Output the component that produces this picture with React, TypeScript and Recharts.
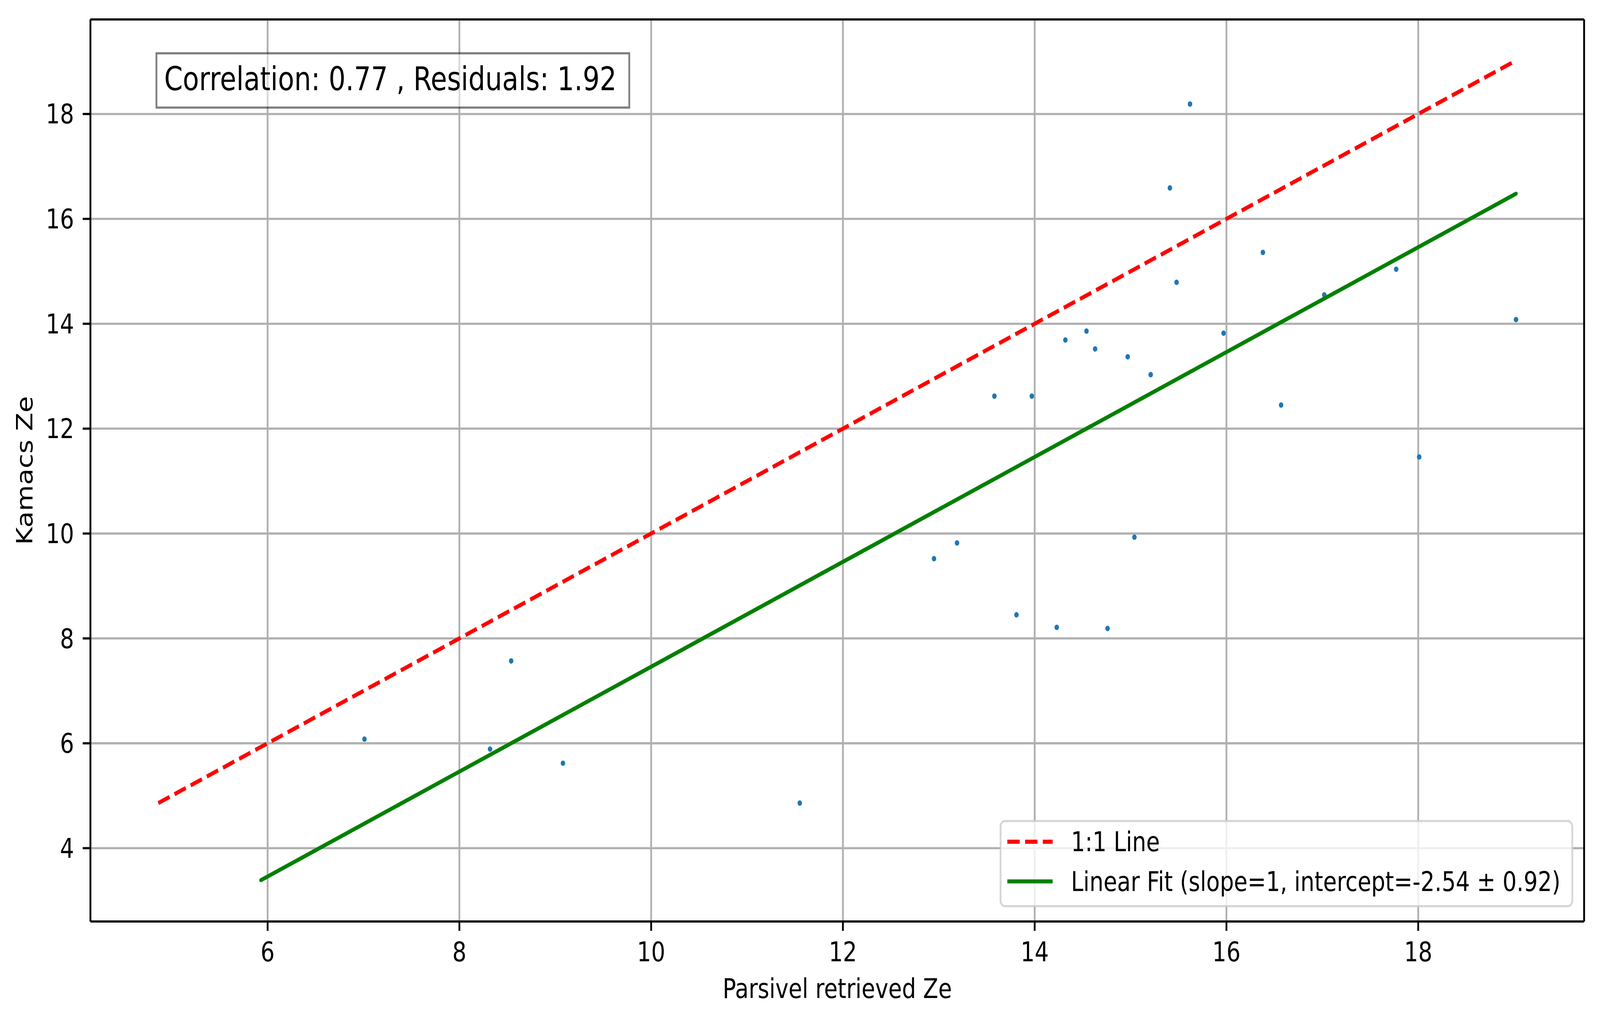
import React from "react";
import { ScatterChart, Scatter, XAxis, YAxis, CartesianGrid, Legend, Label, ReferenceLine } from "recharts";

// values
const parsivelZe = [7.01, 8.32, 8.54, 9.08, 11.55, 12.95, 13.19, 13.58, 13.97, 13.81, 14.23, 14.32, 14.54, 14.63, 14.76, 14.97, 15.04, 15.21, 15.41, 15.48, 15.62, 15.97, 16.38, 16.57, 17.02, 17.77, 18.01, 19.02];
const kamacsZe = [6.08, 5.89, 7.57, 5.62, 4.86, 9.52, 9.82, 12.62, 12.62, 8.45, 8.21, 13.69, 13.86, 13.52, 8.19, 13.37, 9.93, 13.03, 16.59, 14.79, 18.19, 13.82, 15.36, 12.45, 14.55, 15.04, 11.46, 14.08];

const oneToOneX = [4.86, 19.02];
const oneToOneY = [4.86, 19.02];
const fitX = [5.93, 19.02];
const fitY = [3.39, 16.48];

const xTicks = [6, 8, 10, 12, 14, 16, 18];
const yTicks = [4, 6, 8, 10, 12, 14, 16, 18];
const xDomain = [4.152, 19.73];
const yDomain = [2.602, 19.803];

const statsText = "Correlation: 0.77 , Residuals: 1.92";
const oneToOneName = "1:1 Line";
const fitName = "Linear Fit (slope=1, intercept=-2.54 \u00b1 0.92)";

const points = parsivelZe.map((x, i) => ({ x, y: kamacsZe[i] }));
const oneToOne = oneToOneX.map((x, i) => ({ x, y: oneToOneY[i] }));
const fit = fitX.map((x, i) => ({ x, y: fitY[i] }));

const W = 4981;
const H = 2620;
const FONT = "DejaVu Sans";
const LW = 10.4;
const THIN = 5.6;

const lineStyles: Record<string, { stroke: string; dash?: string }> = {
  [oneToOneName]: { stroke: "#ff0000", dash: "38.5 16.7" },
  [fitName]: { stroke: "#008000" },
};

function LegendBox({ payload }: any) {
  const items = (payload || []).filter((p: any) => lineStyles[p.value]);
  return (
    <svg width={1786} height={224} style={{ display: "block", overflow: "visible" }}>
      <rect x={2.8} y={2.8} width={1780} height={218} rx={14} ry={14}
        fill="rgba(255,255,255,0.8)" stroke="rgba(204,204,204,0.8)" strokeWidth={THIN} />
      {items.map((p: any, i: number) => {
        const st = lineStyles[p.value];
        const cy = 55.7 + i * 101.7;
        return (
          <g key={p.value}>
            <line x1={24} x2={165} y1={cy} y2={cy} stroke={st.stroke} strokeWidth={LW}
              strokeDasharray={st.dash} />
            <text x={222} y={cy + 24.7} fontSize={69} fontFamily={FONT} fill="#000">{p.value}</text>
          </g>
        );
      })}
    </svg>
  );
}

const noDot = () => <g />;
const dot = (props: any) => <circle cx={props.cx} cy={props.cy} r={7} fill="#1f77b4" />;

export default function App() {
  // the browser window is narrower than the figure, so squeeze it horizontally to fit
  const sx = Math.min(1, window.innerWidth / W);
  const tickStyle = { fontSize: 69, fill: "#000", fontFamily: FONT };
  return (
    <div style={{ position: "absolute", left: 0, top: 0, width: W * sx, height: H, overflow: "hidden", background: "#fff" }}>
      <div style={{ position: "relative", width: W, height: H, transform: `scale(${sx}, 1)`, transformOrigin: "0 0" }}>
        <ScatterChart width={W} height={H} margin={{ top: 49.8, right: 49.5, bottom: 0, left: 0 }}>
          <CartesianGrid stroke="#b0b0b0" strokeWidth={THIN} />
          <XAxis type="number" dataKey="x" domain={xDomain} ticks={xTicks} allowDataOverflow
            height={260} tickSize={24} tickMargin={29} tick={tickStyle}
            axisLine={{ stroke: "#000", strokeWidth: THIN }} tickLine={{ stroke: "#000", strokeWidth: THIN }}>
            <Label value="Parsivel retrieved Ze" position="insideBottom" offset={64}
              fontSize={69} fontFamily={FONT} fill="#000" />
          </XAxis>
          <YAxis type="number" dataKey="y" domain={yDomain} ticks={yTicks} allowDataOverflow
            width={281.5} tickSize={24} tickMargin={27} tick={tickStyle}
            axisLine={{ stroke: "#000", strokeWidth: THIN }} tickLine={{ stroke: "#000", strokeWidth: THIN }}>
            <Label value="Kamacs Ze" position="insideLeft" offset={77} angle={-90} textAnchor="middle"
              fontSize={69} fontFamily={FONT} fill="#000" />
          </YAxis>
          <ReferenceLine y={yDomain[1]} stroke="#000" strokeWidth={THIN} />
          <ReferenceLine x={xDomain[1]} stroke="#000" strokeWidth={THIN} />
          <Scatter name="points" data={points} shape={dot} legendType="none" isAnimationActive={false} />
          <Scatter name={oneToOneName} data={oneToOne} shape={noDot} lineType="joint" fill="#ff0000"
            line={{ stroke: "#ff0000", strokeWidth: LW, strokeDasharray: "38.5 16.7", fill: "none" }}
            isAnimationActive={false} />
          <Scatter name={fitName} data={fit} shape={noDot} lineType="joint" fill="#008000"
            line={{ stroke: "#008000", strokeWidth: LW, strokeLinecap: "round", fill: "none" }}
            isAnimationActive={false} />
          <Legend layout="vertical" align="center" verticalAlign="middle" content={<LegendBox />}
            wrapperStyle={{ position: "absolute", left: 3112, top: 2100, width: 1786, height: 224, right: "auto", bottom: "auto" }} />
        </ScatterChart>
        <svg width={W} height={H} style={{ position: "absolute", left: 0, top: 0, pointerEvents: "none" }}>
          <rect x={487} y={136.5} width={1472} height={139} fill="rgba(255,255,255,0.5)"
            stroke="rgba(0,0,0,0.5)" strokeWidth={THIN} />
          <text x={511} y={231} fontSize={83} fontFamily={FONT} fill="#000">{statsText}</text>
        </svg>
      </div>
    </div>
  );
}
